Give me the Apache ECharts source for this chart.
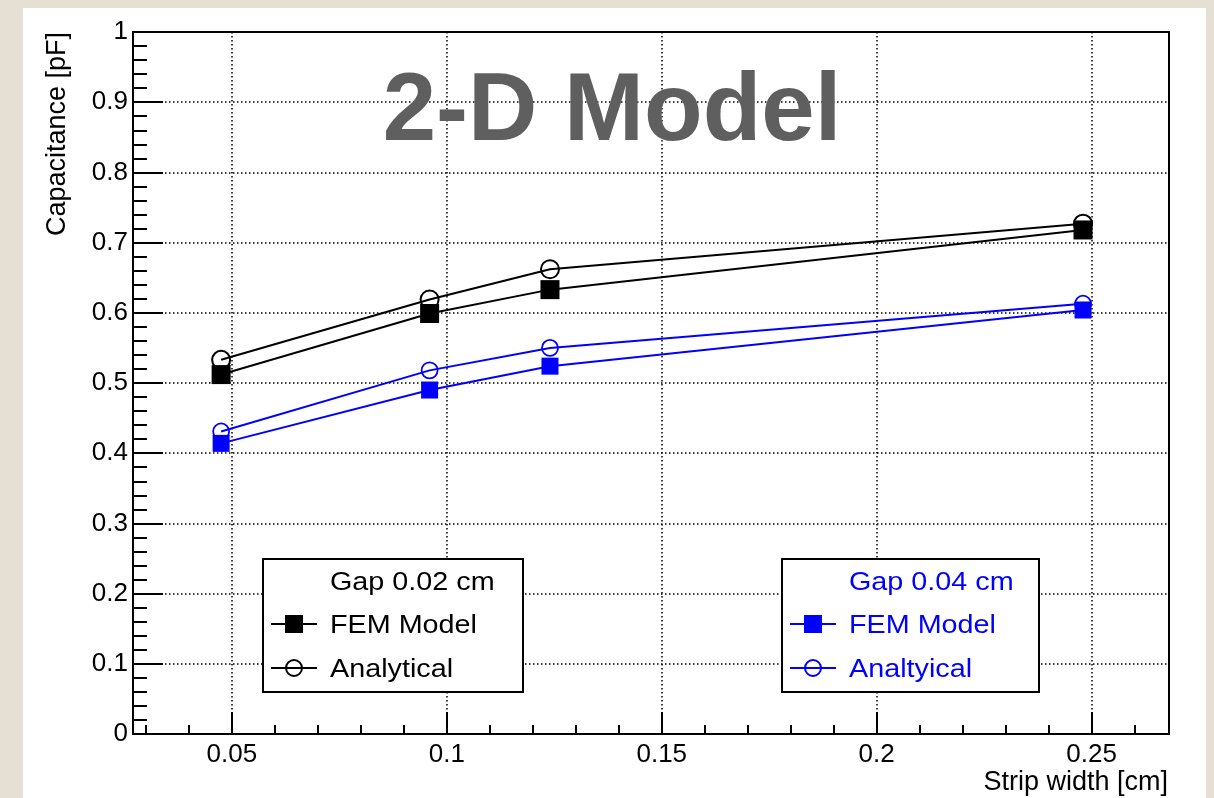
<!DOCTYPE html>
<html>
<head>
<meta charset="utf-8">
<script src="https://cdn.jsdelivr.net/npm/echarts@6/dist/echarts.min.js"></script>
<style>
  html, body { margin: 0; padding: 0; width: 1214px; height: 798px; overflow: hidden; background: #e5e0d3; }
  #panel { position: absolute; left: 23px; top: 8px; width: 1183px; height: 790px; background: #ffffff; }
  #chart { position: absolute; left: 0; top: 0; width: 1214px; height: 798px; }
</style>
</head>
<body>
<div id="panel"></div>
<div id="chart"></div>
<script>
// Strip width [cm] of each simulated configuration
const stripWidth = [0.0475, 0.096, 0.124, 0.248];

// Capacitance [pF], gap 0.02 cm
const femGap002 = [0.512, 0.599, 0.633, 0.718];
const anaGap002 = [0.533, 0.619, 0.662, 0.727];

// Capacitance [pF], gap 0.04 cm
const femGap004 = [0.414, 0.490, 0.524, 0.604];
const anaGap004 = [0.431, 0.518, 0.550, 0.613];

// Legend headings and entry labels
const legendTitles = ['Gap 0.02 cm', 'Gap 0.04 cm'];
const entries002 = ['FEM Model', 'Analytical'];
const entries004 = ['FEM Model', 'Analtyical'];

const FONT = '"Liberation Sans", Arial, Helvetica, sans-serif';
const BLUE = '#0000ff';

function pairs(values) {
  return stripWidth.map((x, i) => [x, values[i]]);
}

function lineSeries(name, values, color, symbol, size, borderWidth, z) {
  const filled = symbol === 'rect';
  return {
    name: name,
    type: 'line',
    data: pairs(values),
    color: color,
    symbol: symbol,
    symbolSize: size,
    showAllSymbol: true,
    z: z,
    silent: true,
    lineStyle: { color: color, width: 2 },
    itemStyle: filled
      ? { color: color, borderWidth: 0 }
      : { color: 'rgba(0,0,0,0)', borderColor: color, borderWidth: borderWidth },
    emphasis: { disabled: true }
  };
}

// One boxed legend: heading, then a line+marker key per entry
function legendBox(x0, boxW, color, title, labels) {
  const keyX = x0 + 8, keyW = 46, textX = x0 + 67;
  const rows = [624, 668];
  const els = [
    { type: 'rect', z: 5, shape: { x: x0, y: 559, width: boxW, height: 133 },
      style: { fill: '#fff', stroke: '#000', lineWidth: 2 } },
    { type: 'text', z: 7, x: textX, y: 583, scaleX: 1.15,
      style: { text: title, fontFamily: FONT, fontSize: 25, fill: color, align: 'left', verticalAlign: 'middle' } }
  ];
  rows.forEach((y, i) => {
    els.push({ type: 'line', z: 6, shape: { x1: keyX, y1: y, x2: keyX + keyW, y2: y },
      style: { stroke: color, lineWidth: 2 } });
    if (i === 0) {
      els.push({ type: 'rect', z: 7, shape: { x: keyX + keyW / 2 - 9, y: y - 9, width: 18, height: 18 },
        style: { fill: color } });
    } else {
      els.push({ type: 'circle', z: 7, shape: { cx: keyX + keyW / 2, cy: y, r: 8 },
        style: { fill: 'none', stroke: color, lineWidth: 2 } });
    }
    els.push({ type: 'text', z: 7, x: textX, y: y + 2, scaleX: 1.15,
      style: { text: labels[i], fontFamily: FONT, fontSize: 25, fill: color, align: 'left', verticalAlign: 'middle' } });
  });
  return els;
}

const chart = echarts.init(document.getElementById('chart'), null, { renderer: 'canvas' });

chart.setOption({
  animation: false,
  backgroundColor: 'transparent',
  grid: {
    left: 133, top: 32, right: 45, bottom: 64,
    show: true,
    borderColor: '#000',
    borderWidth: 2,
    backgroundColor: 'transparent'
  },
  xAxis: {
    type: 'value',
    min: 0.027,
    max: 0.268,
    splitNumber: 5,
    axisLine: { show: true, onZero: false, lineStyle: { color: '#000', width: 2 } },
    axisTick: { show: true, inside: true, length: 22, lineStyle: { color: '#000', width: 2 } },
    minorTick: { show: true, splitNumber: 5, length: 9, lineStyle: { color: '#000', width: 2 } },
    axisLabel: {
      show: true, margin: 8, color: '#000', fontSize: 26, fontFamily: FONT,
      showMinLabel: false, showMaxLabel: false
    },
    splitLine: { show: true, lineStyle: { color: '#000', width: 1.5, type: [1.5, 2.5] } }
  },
  yAxis: {
    type: 'value',
    min: 0,
    max: 1,
    interval: 0.1,
    axisLine: { show: true, onZero: false, lineStyle: { color: '#000', width: 2 } },
    axisTick: { show: true, inside: true, length: 30, lineStyle: { color: '#000', width: 2 } },
    minorTick: { show: true, splitNumber: 5, length: 14, lineStyle: { color: '#000', width: 2 } },
    axisLabel: { show: true, margin: 5, color: '#000', fontSize: 26, fontFamily: FONT },
    splitLine: { show: true, lineStyle: { color: '#000', width: 1.5, type: [1.5, 2.5] } }
  },
  graphic: [
    ...legendBox(263, 260, '#000', legendTitles[0], entries002),
    ...legendBox(782, 257, BLUE, legendTitles[1], entries004),
    // plot heading
    { type: 'text', z: 8, x: 612, y: 114,
      style: { text: '2-D Model', fontFamily: FONT, fontWeight: 'bold', fontSize: 96, fill: '#5f5f5f', align: 'center', verticalAlign: 'middle' } },
    // axis titles
    { type: 'text', z: 8, x: 1168, y: 783,
      style: { text: 'Strip width [cm]', fontFamily: FONT, fontSize: 27, fill: '#000', align: 'right', verticalAlign: 'middle' } },
    { type: 'text', z: 8, x: 58, y: 32, rotation: Math.PI / 2,
      style: { text: 'Capacitance [pF]', fontFamily: FONT, fontSize: 27, fill: '#000', align: 'right', verticalAlign: 'middle' } }
  ],
  series: [
    lineSeries('Analytical (gap 0.02 cm)', anaGap002, '#000', 'circle', 18, 2, 2),
    lineSeries('FEM Model (gap 0.02 cm)', femGap002, '#000', 'rect', 19, 0, 3),
    lineSeries('Analtyical (gap 0.04 cm)', anaGap004, BLUE, 'circle', 16, 1.8, 2),
    lineSeries('FEM Model (gap 0.04 cm)', femGap004, BLUE, 'rect', 17, 0, 3)
  ]
});
</script>
</body>
</html>
